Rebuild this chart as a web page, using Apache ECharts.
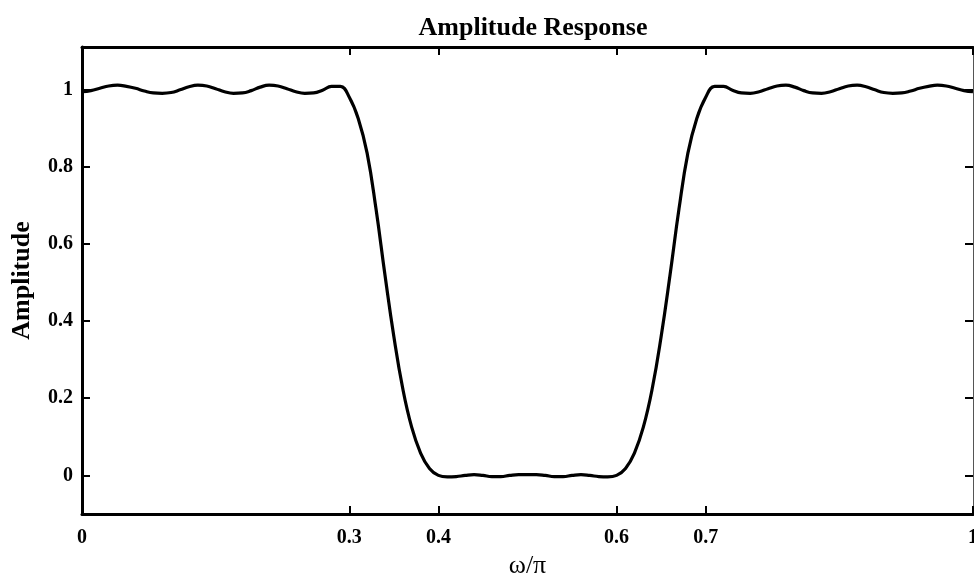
<!DOCTYPE html>
<html>
<head>
<meta charset="utf-8">
<script src="https://cdn.jsdelivr.net/npm/echarts@6/dist/echarts.min.js"></script>
<style>
html,body{margin:0;padding:0;background:#fff;}
#chart{width:974px;height:577px;}
</style>
</head>
<body>
<div id="chart"></div>
<script>
// normalized frequency (omega/pi)
const omega = [
  0.00,0.01,0.02,0.03,0.04,0.05,0.06,0.07,0.08,0.09,
  0.10,0.11,0.12,0.13,0.14,0.15,0.16,0.17,0.18,0.19,
  0.20,0.21,0.22,0.23,0.24,0.25,0.26,0.27,0.28,0.29,
  0.30,0.31,0.32,0.33,0.34,0.35,0.36,0.37,0.38,0.39,
  0.40,0.41,0.42,0.43,0.44,0.45,0.46,0.47,0.48,0.49,
  0.50,0.51,0.52,0.53,0.54,0.55,0.56,0.57,0.58,0.59,
  0.60,0.61,0.62,0.63,0.64,0.65,0.66,0.67,0.68,0.69,
  0.70,0.71,0.72,0.73,0.74,0.75,0.76,0.77,0.78,0.79,
  0.80,0.81,0.82,0.83,0.84,0.85,0.86,0.87,0.88,0.89,
  0.90,0.91,0.92,0.93,0.94,0.95,0.96,0.97,0.98,0.99,
  1.00
];
// amplitude response
const amplitude = [
  0.994,0.997,1.003,1.009,1.011,1.008,1.003,0.996,0.991,0.990,
  0.992,0.999,1.007,1.011,1.009,1.002,0.994,0.990,0.991,0.997,
  1.006,1.011,1.009,1.002,0.994,0.990,0.991,0.998,1.008,1.008,
  0.980,0.925,0.835,0.690,0.520,0.360,0.225,0.125,0.058,0.018,
  0.000,-0.004,-0.003,0.000,0.002,0.000,-0.003,-0.003,0.000,0.002,
  0.002,0.002,0.000,-0.003,-0.003,0.000,0.002,0.000,-0.003,-0.004,
  0.000,0.018,0.058,0.125,0.225,0.360,0.520,0.690,0.835,0.925,
  0.980,1.008,1.008,0.998,0.991,0.990,0.994,1.002,1.009,1.011,
  1.006,0.997,0.991,0.990,0.994,1.002,1.009,1.011,1.007,0.999,
  0.992,0.990,0.991,0.996,1.003,1.008,1.011,1.009,1.003,0.997,
  0.994
];
const xTicks = [0, 0.3, 0.4, 0.6, 0.7, 1];
const yTicks = [0, 0.2, 0.4, 0.6, 0.8, 1];

const FONT = '"Liberation Serif", "Times New Roman", serif';
const data = omega.map((w, i) => [w, amplitude[i]]);

const chart = echarts.init(document.getElementById('chart'), null, {renderer: 'canvas'});
chart.setOption({
  animation: false,
  backgroundColor: '#ffffff',
  title: {
    text: 'Amplitude Response',
    left: 528,
    textAlign: 'center',
    top: 10,
    textStyle: {fontFamily: FONT, fontWeight: 'bold', fontSize: 26, color: '#000'}
  },
  grid: {left: 82, right: 1, top: 47, bottom: 63, containLabel: false, outerBoundsMode: 'none'},
  xAxis: [{
    type: 'value', min: 0, max: 1, position: 'bottom',
    name: 'ω/π', nameLocation: 'middle', nameGap: 37,
    nameTextStyle: {fontFamily: FONT, fontSize: 26, color: '#000'},
    axisLine: {show: true, onZero: false, lineStyle: {color: '#000', width: 3}},
    axisTick: {show: true, inside: true, length: 8, customValues: xTicks, lineStyle: {color: '#000', width: 2}},
    axisLabel: {show: true, customValues: xTicks, margin: 14, fontFamily: FONT, fontWeight: 'bold', fontSize: 20, color: '#000'},
    splitLine: {show: false}
  }, {
    type: 'value', min: 0, max: 1, position: 'top',
    axisLine: {show: true, onZero: false, lineStyle: {color: '#000', width: 3}},
    axisTick: {show: true, inside: true, length: 8, customValues: xTicks, lineStyle: {color: '#000', width: 2}},
    axisLabel: {show: false},
    splitLine: {show: false}
  }],
  yAxis: [{
    type: 'value', min: -0.1, max: 1.11, position: 'left',
    name: 'Amplitude', nameLocation: 'middle', nameGap: 47, nameRotate: 90,
    nameTextStyle: {fontFamily: FONT, fontWeight: 'bold', fontSize: 26, color: '#000'},
    axisLine: {show: true, onZero: false, lineStyle: {color: '#000', width: 3}},
    axisTick: {show: true, inside: true, length: 8, customValues: yTicks, lineStyle: {color: '#000', width: 2}},
    axisLabel: {show: true, customValues: yTicks, margin: 9, fontFamily: FONT, fontWeight: 'bold', fontSize: 20, color: '#000'},
    splitLine: {show: false}
  }, {
    type: 'value', min: -0.1, max: 1.11, position: 'right',
    axisLine: {show: true, onZero: false, lineStyle: {color: '#555', width: 1}},
    axisTick: {show: true, inside: true, length: 8, customValues: yTicks, lineStyle: {color: '#000', width: 2}},
    axisLabel: {show: false},
    splitLine: {show: false}
  }],
  series: [{
    type: 'line',
    xAxisIndex: 0, yAxisIndex: 0,
    data: data,
    smooth: 0.45,
    symbol: 'none',
    lineStyle: {color: '#000', width: 3.2},
    clip: true
  }]
});
</script>
</body>
</html>
